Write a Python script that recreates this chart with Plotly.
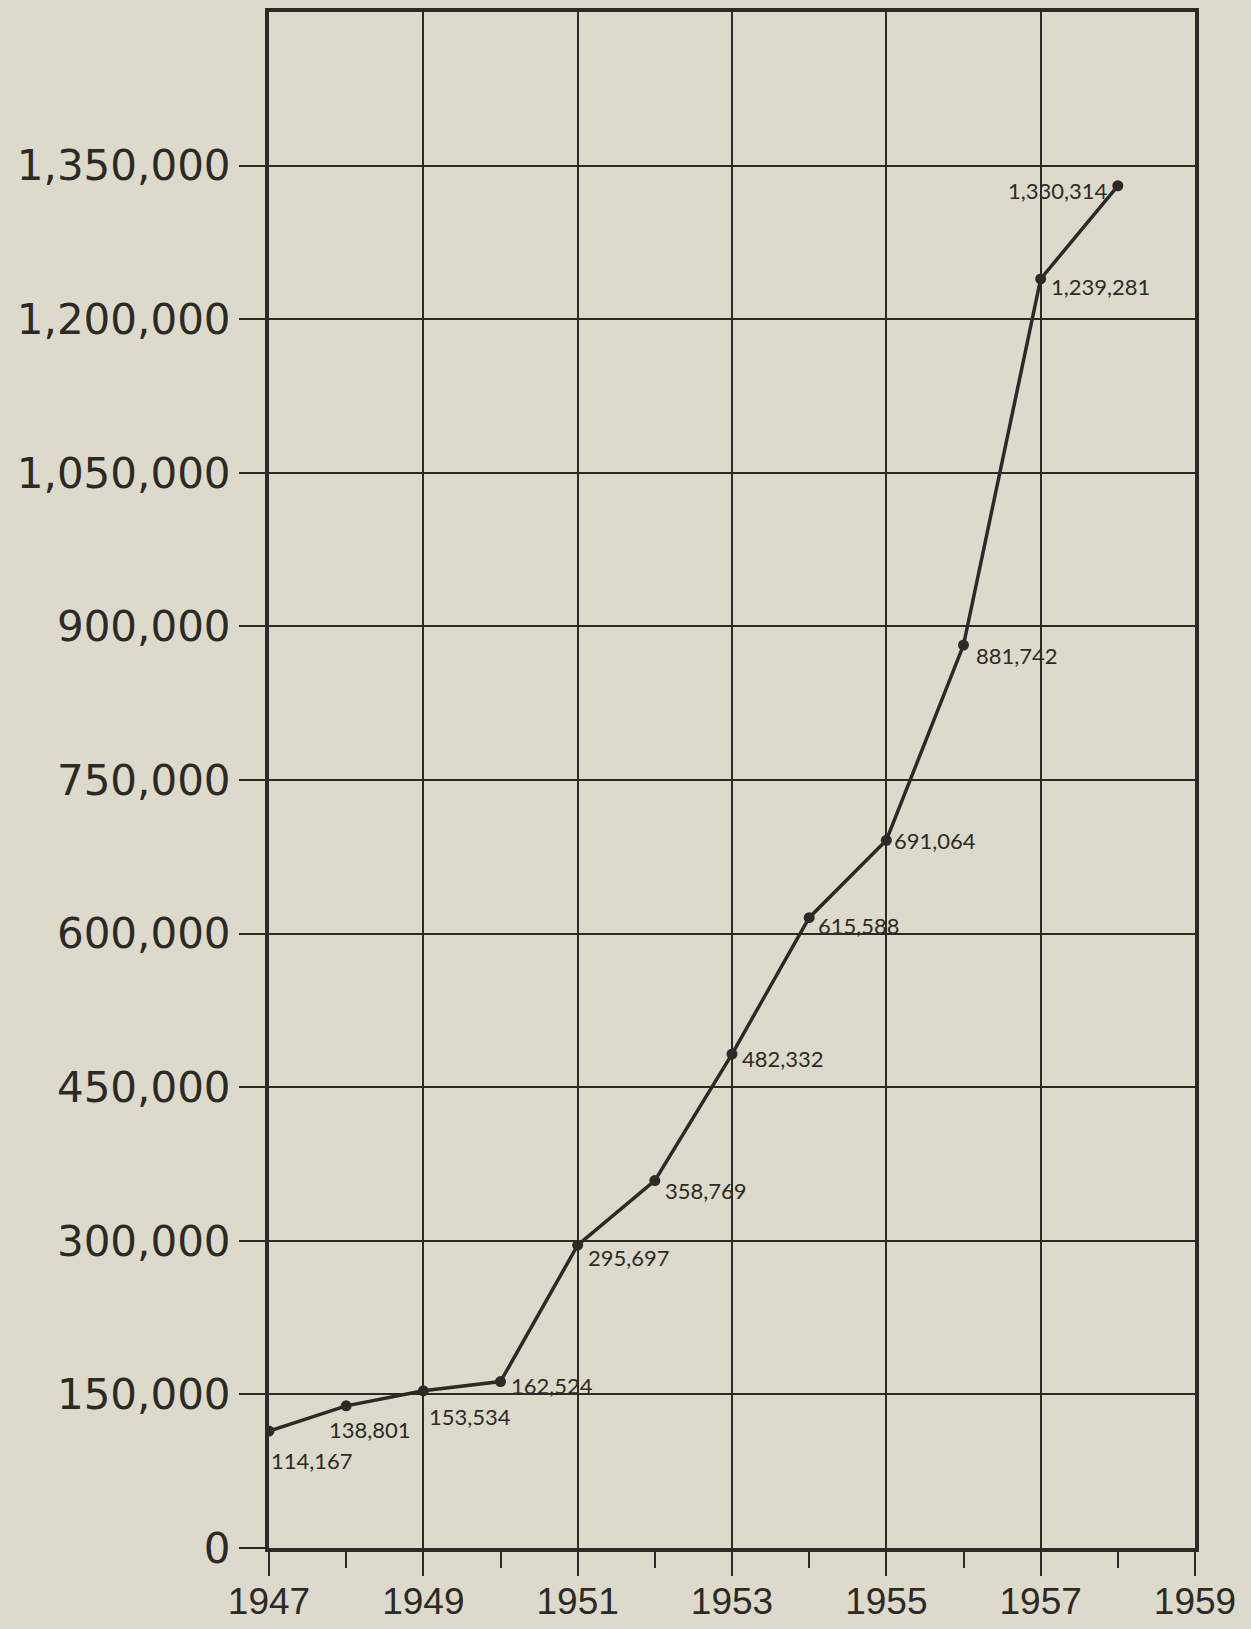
import plotly.graph_objects as go

# ---- data ----
years = [1947, 1948, 1949, 1950, 1951, 1952, 1953, 1954, 1955, 1956, 1957, 1958]
members = [114167, 138801, 153534, 162524, 295697, 358769, 482332, 615588,
           691064, 881742, 1239281, 1330314]
y_tick_vals = [0, 150000, 300000, 450000, 600000, 750000, 900000, 1050000, 1200000, 1350000]
y_tick_text = ["0", "150,000", "300,000", "450,000", "600,000", "750,000", "900,000",
               "1,050,000", "1,200,000", "1,350,000"]
x_tick_vals = [1947, 1949, 1951, 1953, 1955, 1957, 1959]
x_tick_text = ["1947", "1949", "1951", "1953", "1955", "1957", "1959"]
x_minor_vals = [1948, 1950, 1952, 1954, 1956, 1958]

# ---- style ----
BG = "#dedacb"
INK = "#2b2a27"
# label anchor / offsets per point (style only)
label_style = [
    ("left", "top", 0, -14),
    ("center", "top", 24, -8),
    ("left", "top", 4, -10),
    ("left", "middle", 8, -4),
    ("left", "middle", 8, -12),
    ("left", "middle", 8, -10),
    ("left", "middle", 8, -4),
    ("left", "middle", 7, -8),
    ("left", "middle", 6, 0),
    ("left", "middle", 10, -10),
    ("left", "middle", 8, -8),
    ("right", "middle", -8, -5),
]

fig = go.Figure()
fig.add_trace(go.Scatter(
    x=years, y=members, mode="lines+markers",
    line=dict(color=INK, width=3.5),
    marker=dict(color=INK, size=11),
    hoverinfo="skip", showlegend=False,
))

for (yr, v), (xa, ya, dx, dy) in zip(zip(years, members), label_style):
    fig.add_annotation(
        x=yr, y=v, text=f"{v:,}", showarrow=False,
        xanchor=xa, yanchor=ya, xshift=dx, yshift=dy,
        font=dict(family="Lato, DejaVu Sans, sans-serif", size=22, color=INK),
    )

fig.update_xaxes(
    range=[1947, 1959], tickmode="array", tickvals=x_tick_vals, ticktext=x_tick_text,
    showgrid=True, gridcolor=INK, gridwidth=2,
    showline=True, linecolor=INK, linewidth=4, mirror=True,
    ticks="outside", ticklen=24, tickwidth=2, tickcolor=INK,
    minor=dict(tickmode="array", tickvals=x_minor_vals,
               ticks="outside", ticklen=16, tickwidth=2, tickcolor=INK, showgrid=False),
    tickfont=dict(family="Liberation Sans, Arial, sans-serif", size=37, color=INK),
    ticklabelstandoff=-6,
    zeroline=False, automargin=False,
)
fig.update_yaxes(
    range=[0, 1500000], tickmode="array", tickvals=y_tick_vals, ticktext=y_tick_text,
    showgrid=True, gridcolor=INK, gridwidth=2,
    showline=True, linecolor=INK, linewidth=4, mirror=True,
    ticks="outside", ticklen=26, tickwidth=2, tickcolor=INK,
    tickfont=dict(family="DejaVu Sans, sans-serif", size=42, color=INK),
    ticklabelstandoff=0,
    zeroline=False, automargin=False,
)
fig.update_layout(
    width=1251, height=1629,
    margin=dict(l=269, r=56, t=12, b=81, autoexpand=False),
    paper_bgcolor=BG, plot_bgcolor=BG,
    showlegend=False,
)
fig.write_html(
    "out.html",
    config={"displayModeBar": False},
    post_script="document.body.style.margin='0px';document.body.style.overflow='hidden';",
)
